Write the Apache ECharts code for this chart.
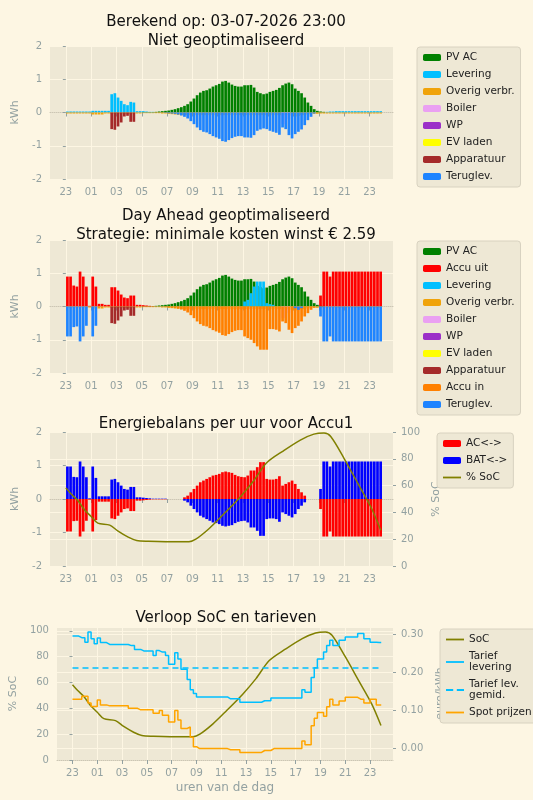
<!DOCTYPE html>
<html>
<head>
<meta charset="utf-8">
<script src="https://cdn.jsdelivr.net/npm/echarts@6/dist/echarts.min.js"></script>
<style>
html, body { margin:0; padding:0; background:#fdf6e3; }
#chart { width:533px; height:800px; }
</style>
</head>
<body>
<div id="chart"></div>
<script>
/* tijd-as: uren na 23:00, labels om de 2 uur */
const tickUren = [0, 2, 4, 6, 8, 10, 12, 14, 16, 18, 20, 22, 24];
const tickLabels = ["23", "01", "03", "05", "07", "09", "11", "13", "15", "17", "19", "21", "23"];

/* kwartierwaarden (kWh), met startkwartier */
const pvStart = 24;
const pv = [
    .01,.01,.01,.01,
    .02,.03,.04,.05,.06,.08,.1,.13,.16,.2,
    .25,.33,.42,.52,.6,.65,.67,.72,.78,.82,
    .86,.93,.95,.9,.84,.8,.78,.78,.82,.82,
    .83,.75,.62,.58,.55,.57,.62,.65,.68,.74,
    .82,.87,.9,.85,.72,.65,.58,.45,.3,.2,
    .1,.05,.03,.02
];
const levering1 = [
    .03,.03,.03,.03,.03,.03,.03,.03,.05,.05,
    .05,.05,.05,.05,.55,.58,.45,.35,.25,.22,
    .32,.3,.04,.04,.04,.03,.02,.02,0,0,
    0,0,0,0,0,0,0,0,0,0,
    0,0,0,0,0,0,0,0,0,0,
    0,0,0,0,0,0,0,0,0,0,
    0,0,0,0,0,0,0,0,0,0,
    0,0,0,0,0,0,0,0,0,0,
    0,0,.02,.03,.03,.04,.04,.04,.04,.04,
    .04,.04,.04,.04,.04,.04,.04,.04,.04,.04
];
const overig = [
    -.03,-.03,-.03,-.03,-.03,-.03,-.03,-.03,-.06,-.06,
    -.06,-.06,-.03,-.03,-.04,-.04,-.04,-.04,-.04,-.04,
    -.04,-.04,-.03,-.03,-.02,-.02,-.02,-.02,-.02,-.02,
    -.03,-.03,-.04,-.05,-.06,-.07,-.08,-.08,-.08,-.08,
    -.08,-.08,-.08,-.08,-.08,-.08,-.08,-.08,-.08,-.08,
    -.08,-.08,-.08,-.08,-.08,-.08,-.08,-.08,-.08,-.08,
    -.08,-.08,-.08,-.08,-.08,-.08,-.08,-.08,-.08,-.08,
    -.08,-.1,-.12,-.1,-.08,-.08,-.06,-.05,-.04,-.04,
    -.03,-.03,-.03,-.03,-.03,-.03,-.03,-.03,-.03,-.03,
    -.03,-.03,-.03,-.03,-.03,-.03,-.03,-.03,-.03,-.03
];
const boilerStart = 68;
const boiler = [-.35, -.35, -.2];
const apparatuurStart = 14;
const apparatuur = [-.5, -.52, -.42, -.3, -.12, -.1, -.28, -.28];
const terug1Start = 31;
const terug1 = [
    -.01,-.02,-.03,-.04,-.06,-.09,-.13,
    -.18,-.26,-.35,-.45,-.53,-.58,-.6,-.65,-.71,-.75,
    -.79,-.86,-.88,-.83,-.77,-.73,-.71,-.71,-.75,-.75,
    -.76,-.68,-.55,-.51,-.48,-.5,-.55,-.58,-.61,-.67,
    -.45,-.5,-.68,-.78,-.65,-.58,-.51,-.38,-.23,-.13,
    -.03
];

/* geoptimaliseerd */
const accuUitNacht = [.9,.9,.63,.6,1.05,.9,.6,.02,.9,.6,.08,.08,.05,.05,.58,.58,.48,.36,.27,.25,.33,.33,.05,.05,.04,.03,.02,.01];
const accuUitAvondStart = 80;
const accuUitAvond = [.33,1.05,1.05,.9,1.05,1.05,1.05,1.05,1.05,1.05,1.05,1.05,1.05,1.05,1.05,1.05,1.05,1.05,1.05,1.05];
const terug2Nacht = [-.9,-.9,-.62,-.6,-1.05,-.9,-.58,0,-.9,-.58];
const terug2DagStart = 72;
const terug2Dag = [-.05, -.1, -.05];
const terug2Avond = [-.3,-1.05,-1.05,-.9,-1.05,-1.05,-1.05,-1.05,-1.05,-1.05,-1.05,-1.05,-1.05,-1.05,-1.05,-1.05,-1.05,-1.05,-1.05,-1.05];
const levering2Start = 56;
const levering2 = [.15, .2, .4, .6, .75, .75, .75, .1, .07, .05];
const accuInStart = 28;
const accuIn = [
    0,0,0,-.01,-.02,-.03,-.04,-.06,-.09,-.13,
    -.18,-.26,-.35,-.45,-.53,-.58,-.6,-.65,-.71,-.75,
    -.79,-.86,-.88,-.83,-.77,-.73,-.71,-.71,-.9,-.95,
    -1.0,-1.1,-1.2,-1.3,-1.3,-1.3,-.68,-.68,-.7,-.75,
    -.45,-.5,-.7,-.8,-.65,-.58,-.45,-.3,-.2,-.1,
    -.03,0,0,0
];

/* energiebalans accu */
const batNacht = [.97,.97,.66,.65,1.12,.97,.65,.02,.97,.63,.08,.08,.08,.08,.58,.6,.5,.4,.3,.28,.36,.36,.05,.05,.04,.03,.02,.01,.01,.01,.01,.01];
const acNacht = [-.97,-.97,-.66,-.65,-1.12,-.97,-.65,-.02,-.97,-.63,-.08,-.08,-.08,-.08,-.58,-.6,-.5,-.4,-.3,-.28,-.36,-.36,-.05,-.05,-.04,-.03,-.02,-.01,-.01,-.01,-.01,-.01];
const balansDagStart = 37;
const acDag = [.05,.1,.2,.3,.4,.5,.55,.6,.65,.7,.72,.75,.8,.82,.8,.78,.72,.68,.66,.65,.7,.85,.85,.95,1.1,1.1,.6,.58,.58,.6,.68,.4,.45,.5,.55,.45,.3,.2,.1];
const batDag = [-.05,-.1,-.2,-.3,-.4,-.5,-.55,-.6,-.65,-.7,-.72,-.75,-.8,-.82,-.8,-.78,-.72,-.68,-.66,-.65,-.7,-.85,-.85,-.95,-1.1,-1.1,-.6,-.58,-.58,-.6,-.68,-.4,-.45,-.5,-.55,-.45,-.3,-.2,-.1];
const batAvond = [.3,1.12,1.12,.97,1.12,1.12,1.12,1.12,1.12,1.12,1.12,1.12,1.12,1.12,1.12,1.12,1.12,1.12,1.12,1.12];
const acAvond = [-.3,-1.12,-1.12,-.97,-1.12,-1.12,-1.12,-1.12,-1.12,-1.12,-1.12,-1.12,-1.12,-1.12,-1.12,-1.12,-1.12,-1.12,-1.12,-1.12];

/* SoC (%) op tijdstip (uren na 23:00) */
const socUren = [0,.4,.93,1.47,2,2.53,3.47,4.13,4.93,5.6,6.53,7.87,9.73,10.27,11.33,12.4,13.73,14.8,15.87,17.2,18.53,19.6,20.4,20.93,22,23.07,24.13,24.88];
const socWaarde = [58.3,54,49,42,37,32,30.5,26,21.5,19,18.4,18.1,18.1,20,28,38,51,63,77,86,94,98.4,99.2,96.6,80,61.7,43.5,26.7];

/* tarieven per kwartier (euro/kWh) */
const tariefLevering = [
    .296,.296,.292,.292,.28,.307,.289,.276,.291,.279,
    .279,.274,.274,.274,.274,.274,.274,.274,.271,.271,
    .261,.261,.257,.257,.257,.257,.245,.258,.254,.254,
    .245,.222,.222,.252,.236,.209,.209,.182,.155,.145,
    .136,.136,.136,.136,.136,.136,.136,.136,.136,.136,
    .131,.131,.131,.131,.122,.122,.122,.122,.122,.122,
    .122,.126,.126,.126,.133,.133,.133,.133,.133,.133,
    .133,.133,.133,.133,.155,.148,.148,.187,.213,.236,
    .236,.254,.271,.285,.271,.271,.285,.285,.294,.294,
    .294,.294,.303,.303,.289,.289,.28,.28,.279,.279
];
const tariefGemiddeld = 0.212;
const spotPrijzen = [
    .13,.13,.13,.1375,.1375,.12,.111,.111,.128,.115,
    .115,.1125,.1125,.1125,.1125,.1125,.1125,.1125,.106,.106,
    .106,.102,.102,.102,.102,.102,.093,.093,.1,.088,
    .088,.07,.07,.1,.075,.053,.053,.057,.03,.005,
    0,0,0,0,0,0,0,0,0,0,
    -.003,-.003,-.003,-.003,-.01,-.01,-.01,-.01,-.01,-.01,
    -.01,-.005,-.005,-.005,0,0,0,0,0,0,
    0,0,0,0,.02,.01,.01,.06,.08,.095,
    .095,.085,.11,.13,.115,.115,.125,.125,.135,.135,
    .135,.135,.13,.13,.12,.12,.13,.13,.115,.115
];

/* kleuren */
const kleur = {
    pv:"#008000", accuUit:"#ff0000", levering:"#00bfff", overig:"#f0a30a",
    boiler:"#eaa0f2", wp:"#9b30c8", ev:"#ffff00", apparatuur:"#a52a2a",
    accuIn:"#ff8000", terug:"#1e84ff", ac:"#ff0000", bat:"#0000ff", soc:"#808000",
    spot:"#ffa500"
};

/* kwartier -> [uur, waarde] */
function kwartier(arr, start){
    return arr.map((v, i) => [(start + i) * 0.25 + 0.125, v]);
}

/* trapjes voor tarieven */
function trap(arr){
    const pts = arr.map((v, i) => [i * 0.25, v]);
    pts.push([arr.length * 0.25 - 0.1, arr[arr.length - 1]]);
    return pts;
}

const tekstKleur = "#657b83";
const grids = [
    {left:50, right:140, top:46, height:133},
    {left:50, right:140, top:240, height:133},
    {left:50, right:140, top:432, height:134},
    {left:50, right:140, top:627, height:133}
];

function xAs(idx){
    return {
        type:"value", gridIndex:idx, min:-1.25, max:25.85,
        name: idx === 3 ? "uren van de dag" : "",
        nameLocation:"middle", nameGap:22,
        nameTextStyle:{color:"#93a1a1", fontSize:12, fontFamily:"DejaVu Sans"},
        axisLine:{show:true, lineStyle:{color:"#ccc6b4", type:"dotted"}},
        axisTick:{show:true, customValues:tickUren, length:4, lineStyle:{color:"#93a1a1"}},
        axisLabel:{
            customValues:tickUren, color:"#93a1a1", fontSize:10, fontFamily:"DejaVu Sans",
            formatter: v => tickLabels[tickUren.indexOf(v)]
        },
        splitLine:{show:true, lineStyle:{color:"#fdf6e3", width:1}}
    };
}

function yAs(idx, opts){
    return Object.assign({
        type:"value", gridIndex:idx,
        nameLocation:"middle", nameGap:26,
        nameTextStyle:{color:"#93a1a1", fontSize:11, fontFamily:"DejaVu Sans"},
        axisLine:{show:false},
        axisTick:{show:true, length:3, lineStyle:{color:"#93a1a1"}},
        axisLabel:{color:"#93a1a1", fontSize:10, fontFamily:"DejaVu Sans"},
        splitLine:{show:true, lineStyle:{color:"#fdf6e3", width:1}}
    }, opts);
}

function staaf(naam, data, xi, yi, k, stack){
    return {
        name:naam, type:"bar", xAxisIndex:xi, yAxisIndex:yi,
        stack:stack, barWidth:2.7, data:data,
        itemStyle:{color:k}, emphasis:{disabled:true}
    };
}

const legendStijl = {
    orient:"vertical", backgroundColor:"#eee8d5", borderColor:"#d8d2c0",
    borderWidth:1, borderRadius:3, padding:[5, 6, 5, 6],
    itemWidth:18, itemHeight:7, itemGap:6,
    textStyle:{color:"#222", fontSize:10.5, fontFamily:"DejaVu Sans"}
};

const lijnIcoon = "path://M0,0L20,0L20,2L0,2Z";
const streepIcoon = "path://M0,0L8,0L8,2L0,2ZM12,0L20,0L20,2L12,2Z";
const legendNamen = {
    "Tarief levering":"Tarief\nlevering",
    "Tarief lev. gemid.":"Tarief lev.\ngemid."
};

const chart = echarts.init(document.getElementById("chart"));

chart.setOption({
    backgroundColor:"#fdf6e3",
    animation:false,
    title:[
        {text:"Berekend op: 03-07-2026 23:00\nNiet geoptimaliseerd", left:221, top:8, textAlign:"center",
            textStyle:{fontSize:15, fontWeight:"normal", color:"#111", lineHeight:19, fontFamily:"DejaVu Sans"}},
        {text:"Day Ahead geoptimaliseerd\nStrategie: minimale kosten winst € 2.59", left:221, top:202, textAlign:"center",
            textStyle:{fontSize:15, fontWeight:"normal", color:"#111", lineHeight:19, fontFamily:"DejaVu Sans"}},
        {text:"Energiebalans per uur voor Accu1", left:221, top:412, textAlign:"center",
            textStyle:{fontSize:15, fontWeight:"normal", color:"#111", fontFamily:"DejaVu Sans"}},
        {text:"Verloop SoC en tarieven", left:221, top:606, textAlign:"center",
            textStyle:{fontSize:15, fontWeight:"normal", color:"#111", fontFamily:"DejaVu Sans"}}
    ],
    grid:grids.map(g => Object.assign({show:true, backgroundColor:"#eee8d5", borderWidth:0}, g)),
    legend:[
        Object.assign({}, legendStijl, {left:417, top:47,
            data:["PV AC","Levering","Overig verbr.","Boiler","WP","EV laden","Apparatuur","Teruglev."]}),
        Object.assign({}, legendStijl, {left:417, top:241,
            data:["PV AC","Accu uit","Levering","Overig verbr.","Boiler","WP","EV laden","Apparatuur","Accu in","Teruglev."]}),
        Object.assign({}, legendStijl, {left:437, top:433,
            data:[{name:"AC<->"},{name:"BAT<->"},{name:"% SoC", icon:lijnIcoon}]}),
        Object.assign({}, legendStijl, {left:440, top:629,
            formatter: n => legendNamen[n] || n,
            data:[{name:"SoC", icon:lijnIcoon},{name:"Tarief levering", icon:lijnIcoon},
                {name:"Tarief lev. gemid.", icon:streepIcoon},{name:"Spot prijzen", icon:lijnIcoon}]})
    ],
    xAxis:[xAs(0), xAs(1), xAs(2), xAs(3)],
    yAxis:[
        yAs(0, {min:-2, max:2, interval:1, name:"kWh"}),
        yAs(1, {min:-2, max:2, interval:1, name:"kWh"}),
        yAs(2, {min:-2, max:2, interval:1, name:"kWh"}),
        yAs(2, {min:0, max:100, interval:20, name:"% SoC", position:"right", nameGap:32}),
        yAs(3, {min:0, max:103, interval:20, name:"% SoC", nameGap:30,
            axisLabel:{color:"#93a1a1", fontSize:10, fontFamily:"DejaVu Sans", showMaxLabel:false}}),
        yAs(3, {min:-0.03, max:0.32, name:"euro/kWh", position:"right", nameGap:38,
            axisTick:{show:true, length:3, customValues:[0, 0.1, 0.2, 0.3], lineStyle:{color:"#93a1a1"}},
            axisLabel:{customValues:[0, 0.1, 0.2, 0.3], color:"#93a1a1", fontSize:10, fontFamily:"DejaVu Sans",
                formatter: v => v.toFixed(2)}})
    ],
    series:[
        /* paneel 1 */
        staaf("PV AC", kwartier(pv, pvStart), 0, 0, kleur.pv, "p1"),
        staaf("Levering", kwartier(levering1, 0), 0, 0, kleur.levering, "p1"),
        staaf("Overig verbr.", kwartier(overig, 0), 0, 0, kleur.overig, "p1"),
        staaf("Boiler", kwartier(boiler, boilerStart), 0, 0, kleur.boiler, "p1"),
        staaf("WP", [], 0, 0, kleur.wp, "p1"),
        staaf("EV laden", [], 0, 0, kleur.ev, "p1"),
        staaf("Apparatuur", kwartier(apparatuur, apparatuurStart), 0, 0, kleur.apparatuur, "p1"),
        staaf("Teruglev.", kwartier(terug1, terug1Start), 0, 0, kleur.terug, "p1"),

        /* paneel 2 */
        staaf("PV AC", kwartier(pv, pvStart), 1, 1, kleur.pv, "p2"),
        staaf("Accu uit", kwartier(accuUitNacht, 0).concat(kwartier(accuUitAvond, accuUitAvondStart)), 1, 1, kleur.accuUit, "p2"),
        staaf("Levering", kwartier(levering2, levering2Start), 1, 1, kleur.levering, "p2"),
        staaf("Overig verbr.", kwartier(overig, 0), 1, 1, kleur.overig, "p2"),
        staaf("Boiler", kwartier(boiler, boilerStart), 1, 1, kleur.boiler, "p2"),
        staaf("WP", [], 1, 1, kleur.wp, "p2"),
        staaf("EV laden", [], 1, 1, kleur.ev, "p2"),
        staaf("Apparatuur", kwartier(apparatuur, apparatuurStart), 1, 1, kleur.apparatuur, "p2"),
        staaf("Accu in", kwartier(accuIn, accuInStart), 1, 1, kleur.accuIn, "p2"),
        staaf("Teruglev.", kwartier(terug2Nacht, 0)
            .concat(kwartier(terug2Dag, terug2DagStart))
            .concat(kwartier(terug2Avond, accuUitAvondStart)), 1, 1, kleur.terug, "p2"),

        /* paneel 3 */
        staaf("AC<->", kwartier(acNacht, 0).concat(kwartier(acDag, balansDagStart)).concat(kwartier(acAvond, accuUitAvondStart)),
            2, 2, kleur.ac, "p3"),
        staaf("BAT<->", kwartier(batNacht, 0).concat(kwartier(batDag, balansDagStart)).concat(kwartier(batAvond, accuUitAvondStart)),
            2, 2, kleur.bat, "p3"),
        {
            name:"% SoC", type:"line", xAxisIndex:2, yAxisIndex:3, smooth:0.3, showSymbol:false,
            data:socUren.map((u, i) => [u, socWaarde[i]]),
            lineStyle:{color:kleur.soc, width:1.5}, itemStyle:{color:kleur.soc}
        },

        /* paneel 4 */
        {
            name:"SoC", type:"line", xAxisIndex:3, yAxisIndex:4, smooth:0.3, showSymbol:false,
            data:socUren.map((u, i) => [u, socWaarde[i]]),
            lineStyle:{color:kleur.soc, width:1.5}, itemStyle:{color:kleur.soc}
        },
        {
            name:"Tarief levering", type:"line", xAxisIndex:3, yAxisIndex:5, step:"end", showSymbol:false,
            data:trap(tariefLevering),
            lineStyle:{color:kleur.levering, width:1.5}, itemStyle:{color:kleur.levering}
        },
        {
            name:"Tarief lev. gemid.", type:"line", xAxisIndex:3, yAxisIndex:5, showSymbol:false,
            data:[[0, tariefGemiddeld], [24.9, tariefGemiddeld]],
            lineStyle:{color:kleur.levering, width:1.5, type:[6, 4]}, itemStyle:{color:kleur.levering}
        },
        {
            name:"Spot prijzen", type:"line", xAxisIndex:3, yAxisIndex:5, step:"end", showSymbol:false,
            data:trap(spotPrijzen),
            lineStyle:{color:kleur.spot, width:1.5}, itemStyle:{color:kleur.spot}
        }
    ]
});
</script>
</body>
</html>
